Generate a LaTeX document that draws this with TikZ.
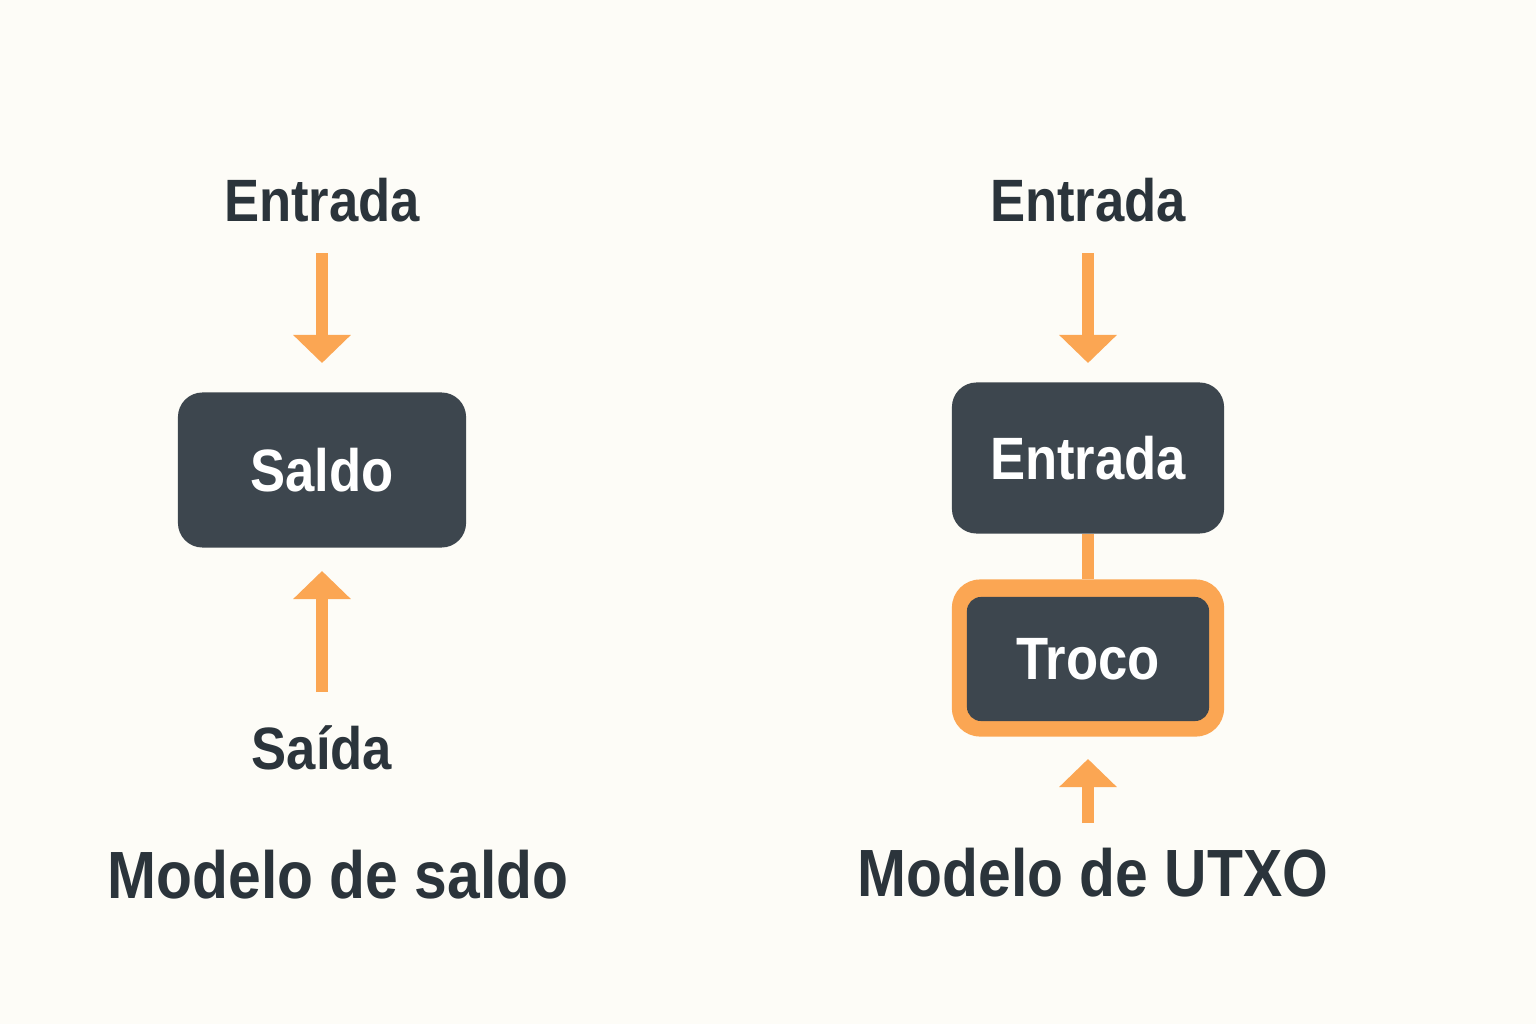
\documentclass[tikz,border=0pt]{standalone}
\usepackage{fontspec}
\setmainfont[FakeStretch=0.88]{Liberation Sans}
\usetikzlibrary{arrows.meta, positioning}
\definecolor{Paper}{HTML}{FDFCF7}
\definecolor{Slate}{HTML}{3D464E}
\definecolor{Ink}{HTML}{2B343B}
\definecolor{Amber}{HTML}{FBA653}

\begin{document}
\begin{tikzpicture}[x=0.01cm, y=-0.01cm,
    box/.style={rectangle, rounded corners=7pt, fill=Slate, text=white,
                font=\fontsize{17}{20}\selectfont\bfseries, inner sep=0pt},
    label/.style={text=Ink, font=\fontsize{17}{20}\selectfont\bfseries},
    title/.style={text=Ink, font=\fontsize{19}{23}\selectfont\bfseries},
    flow/.style={draw=Amber, line width=3.4pt,
                 -{Triangle[width=16pt, length=8pt]}}
]
    \fill[Paper] (0,0) rectangle (1536,1024);

    % Balance model
    \node[label] (inL) at (322,200) {Entrada};
    \node[box, minimum width=2.88cm, minimum height=1.55cm] (saldo) at (322,470) {Saldo};
    \node[label] (outL) at (322,748) {Saída};
    \node[title] (modelL) at (338,875) {Modelo de saldo};
    \coordinate (inLs) at (322,253);
    \coordinate (inLe) at (322,363);
    \coordinate (outLs) at (322,692);
    \coordinate (outLe) at (322,571);
    \draw[flow] (inLs) -- (inLe);
    \draw[flow] (outLs) -- (outLe);

    % UTXO model
    \node[label] (inR) at (1088,200) {Entrada};
    \node[box, minimum width=2.72cm, minimum height=1.51cm] (entrada) at (1088,458) {Entrada};
    \node[rectangle, rounded corners=8pt, fill=Amber, minimum width=2.72cm,
          minimum height=1.57cm] (trocoRing) at (1088,658) {};
    \node[box, rounded corners=4pt, minimum width=2.42cm, minimum height=1.24cm] (troco) at (1088,659) {Troco};
    \node[title] (modelR) at (1093,873) {Modelo de UTXO};
    \coordinate (inRs) at (1088,253);
    \coordinate (inRe) at (1088,363);
    \coordinate (outRs) at (1088,823);
    \coordinate (outRe) at (1088,759);
    \draw[flow] (inRs) -- (inRe);
    \draw[draw=Amber, line width=3.4pt] (entrada.south) -- (trocoRing.north);
    \draw[flow] (outRs) -- (outRe);
\end{tikzpicture}
\end{document}
